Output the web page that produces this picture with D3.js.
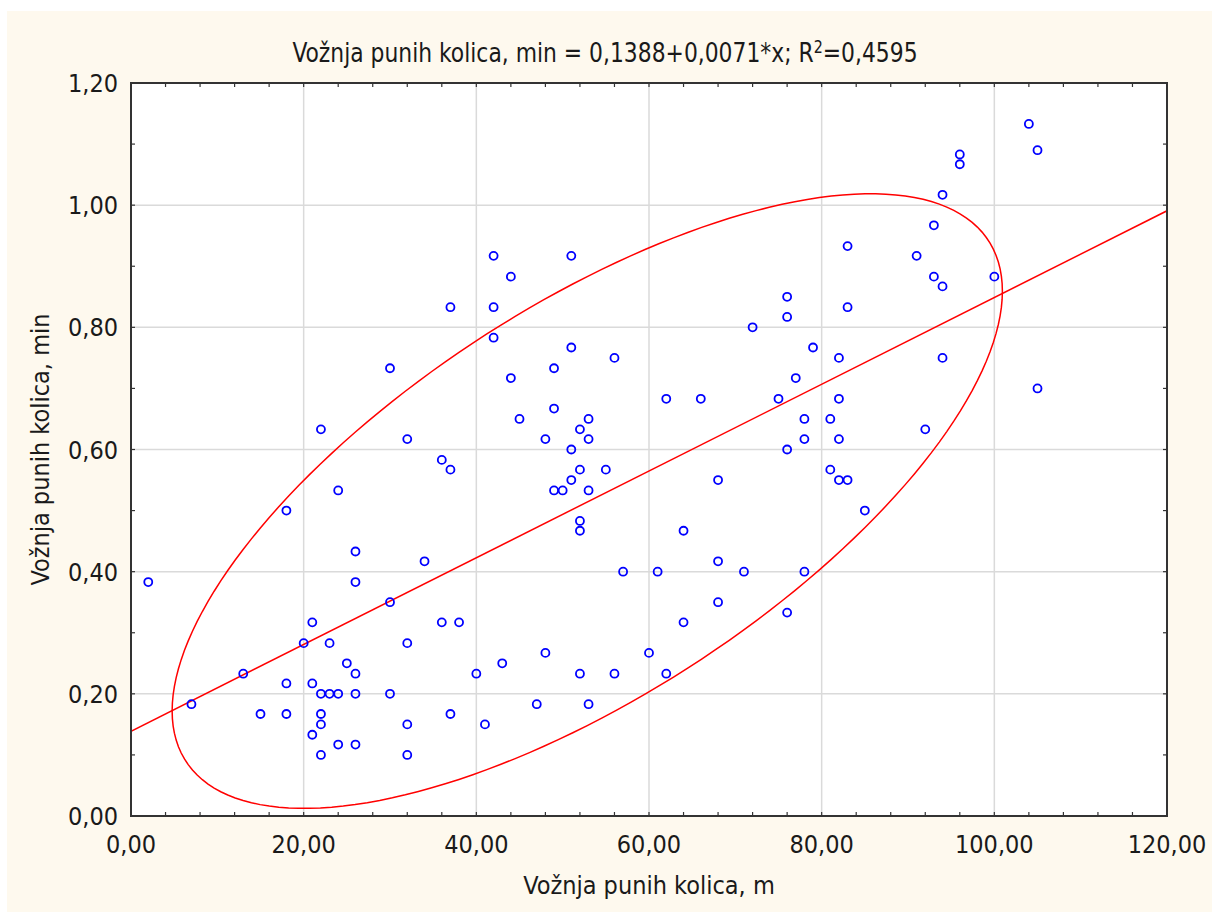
<!DOCTYPE html>
<html>
<head>
<meta charset="utf-8">
<script src="https://cdn.jsdelivr.net/npm/d3@7"></script>
<style>
  body { margin: 0; background: #fff; }
  svg text { font-family: "DejaVu Sans Condensed", "DejaVu Sans", sans-serif; fill: #1a1a1a; }
</style>
</head>
<body>
<div id="chart"></div>
<script>
// data
const xVals = [2, 7, 13, 15, 18, 18, 18, 20, 21, 21, 21, 22, 22, 22, 22, 22, 23, 23, 24, 24,
  24, 25, 26, 26, 26, 26, 26, 30, 30, 30, 32, 32, 32, 32, 34, 36, 36, 37, 37, 37,
  38, 40, 41, 42, 42, 42, 43, 44, 44, 45, 47, 48, 48, 49, 49, 49, 50, 51, 51, 51,
  51, 52, 52, 52, 52, 52, 53, 53, 53, 53, 55, 56, 56, 57, 60, 61, 62, 62, 64, 64,
  66, 68, 68, 68, 71, 72, 75, 76, 76, 76, 76, 77, 78, 78, 78, 79, 81, 81, 82, 82,
  82, 82, 83, 83, 83, 85, 91, 92, 93, 93, 94, 94, 94, 96, 96, 100, 104, 105, 105];
const yVals = [0.383, 0.183, 0.233, 0.167, 0.500, 0.217, 0.167, 0.283, 0.317, 0.217, 0.133, 0.633, 0.200, 0.167, 0.150, 0.100, 0.200, 0.283, 0.200, 0.533,
  0.117, 0.250, 0.433, 0.383, 0.233, 0.200, 0.117, 0.733, 0.350, 0.200, 0.617, 0.283, 0.150, 0.100, 0.417, 0.583, 0.317, 0.833, 0.567, 0.167,
  0.317, 0.233, 0.150, 0.917, 0.833, 0.783, 0.250, 0.883, 0.717, 0.650, 0.183, 0.617, 0.267, 0.733, 0.667, 0.533, 0.533, 0.917, 0.767, 0.600,
  0.550, 0.633, 0.567, 0.483, 0.467, 0.233, 0.650, 0.617, 0.533, 0.183, 0.567, 0.750, 0.233, 0.400, 0.267, 0.400, 0.683, 0.233, 0.467, 0.317,
  0.683, 0.550, 0.417, 0.350, 0.400, 0.800, 0.683, 0.850, 0.817, 0.600, 0.333, 0.717, 0.650, 0.617, 0.400, 0.767, 0.650, 0.567, 0.750, 0.683,
  0.617, 0.550, 0.550, 0.933, 0.833, 0.500, 0.917, 0.633, 0.967, 0.883, 1.017, 0.867, 0.750, 1.083, 1.067, 0.883, 1.133, 1.090, 0.700];

const xTicks = [0, 20, 40, 60, 80, 100, 120];
const yTicks = [0, 0.2, 0.4, 0.6, 0.8, 1.0, 1.2];
const intercept = 0.1388, slope = 0.0071;
const titleText = "Vožnja punih kolica, min = 0,1388+0,0071*x; R";
const xLabel = "Vožnja punih kolica, m";
const yLabel = "Vožnja punih kolica, min";
const ellipseK = 1.88; // size of the normal ellipse, in standard deviations

const w = 1212, h = 912;
const margin = {top: 83, right: 45, bottom: 96, left: 131};
const fs = 25;

const loc = d3.formatLocale({decimal: ",", thousands: ".", grouping: [3], currency: ["", ""]});
const f2 = loc.format(".2f");

const svg = d3.select("#chart").append("svg")
  .attr("width", w).attr("height", h);

svg.append("rect").attr("x", 7).attr("y", 11).attr("width", w - 7).attr("height", h - 11)
  .attr("fill", "#fef9ee");

const x = d3.scaleLinear().domain([0, 120]).range([margin.left, w - margin.right]);
const y = d3.scaleLinear().domain([0, 1.2]).range([h - margin.bottom, margin.top]);

svg.append("rect")
  .attr("x", x(0)).attr("y", y(1.2))
  .attr("width", x(120) - x(0)).attr("height", y(0) - y(1.2))
  .attr("fill", "#fff");

// grid
const grid = svg.append("g").attr("stroke", "#dadada").attr("stroke-width", 1.5);
grid.selectAll(".vx").data(xTicks.slice(1, -1)).enter().append("line")
  .attr("x1", d => x(d)).attr("x2", d => x(d)).attr("y1", y(0)).attr("y2", y(1.2));
grid.selectAll(".hy").data(yTicks.slice(1, -1)).enter().append("line")
  .attr("y1", d => y(d)).attr("y2", d => y(d)).attr("x1", x(0)).attr("x2", x(120));

svg.append("defs").append("clipPath").attr("id", "plotclip")
  .append("rect").attr("x", x(0)).attr("y", y(1.2))
  .attr("width", x(120) - x(0)).attr("height", y(0) - y(1.2));

// normal ellipse from the data
const n = xVals.length;
const mx = d3.mean(xVals), my = d3.mean(yVals);
const sx = d3.deviation(xVals), sy = d3.deviation(yVals);
let cov = 0;
for (let i = 0; i < n; i++) cov += (xVals[i] - mx) * (yVals[i] - my);
cov /= (n - 1);
const r = cov / (sx * sy);
const ell = d3.range(0, 361, 2).map(a => {
  const t = a * Math.PI / 180;
  const u = Math.cos(t), v = Math.sin(t);
  return [x(mx + ellipseK * sx * u), y(my + ellipseK * sy * (r * u + Math.sqrt(1 - r * r) * v))];
});

const red = svg.append("g").attr("clip-path", "url(#plotclip)")
  .attr("fill", "none").attr("stroke", "#ff0000").attr("stroke-width", 1.5);
red.append("path").attr("d", d3.line()(ell) + "Z");
red.append("path").attr("d", d3.line()([[x(0), y(intercept)], [x(120), y(intercept + slope * 120)]]));

// points
svg.append("g").selectAll("circle").data(xVals).enter().append("circle")
  .attr("cx", d => x(d))
  .attr("cy", (d, i) => y(yVals[i]))
  .attr("r", 4)
  .attr("fill", "none").attr("stroke", "#0000ff").attr("stroke-width", 1.8);

// frame + inward ticks
const axisCol = "#333";
const minorX = d3.range(0, 121, 4), minorY = d3.range(0, 1.201, 0.1);
const tk = svg.append("g").attr("stroke", axisCol).attr("stroke-width", 1.2);
tk.selectAll(".tb").data(minorX).enter().append("line")
  .attr("x1", d => x(d)).attr("x2", d => x(d)).attr("y1", y(0)).attr("y2", y(0) - 4);
tk.selectAll(".tt").data(minorX).enter().append("line")
  .attr("x1", d => x(d)).attr("x2", d => x(d)).attr("y1", y(1.2)).attr("y2", y(1.2) + 4);
tk.selectAll(".tl").data(minorY).enter().append("line")
  .attr("y1", d => y(d)).attr("y2", d => y(d)).attr("x1", x(0)).attr("x2", x(0) + 4);
tk.selectAll(".tr").data(minorY).enter().append("line")
  .attr("y1", d => y(d)).attr("y2", d => y(d)).attr("x1", x(120)).attr("x2", x(120) - 4);

svg.append("rect")
  .attr("x", x(0)).attr("y", y(1.2))
  .attr("width", x(120) - x(0)).attr("height", y(0) - y(1.2))
  .attr("fill", "none").attr("stroke", axisCol).attr("stroke-width", 2);

// tick labels
svg.append("g").selectAll("text").data(xTicks).enter().append("text")
  .attr("x", d => x(d)).attr("y", y(0) + 37)
  .attr("text-anchor", "middle").attr("font-size", fs)
  .text(d => f2(d));
svg.append("g").selectAll("text").data(yTicks).enter().append("text")
  .attr("x", x(0) - 13).attr("y", d => y(d) + 9)
  .attr("text-anchor", "end").attr("font-size", fs)
  .text(d => f2(d));

// title and axis labels
const title = svg.append("text")
  .attr("transform", "translate(605,62) scale(0.935,1)")
  .attr("text-anchor", "middle").attr("font-size", fs + 1);
title.append("tspan").text(titleText);
title.append("tspan").attr("dy", -9).attr("font-size", 17).text("2");
title.append("tspan").attr("dy", 9).text("=0,4595");

svg.append("text")
  .attr("x", (x(0) + x(120)) / 2).attr("y", 894)
  .attr("text-anchor", "middle").attr("font-size", fs)
  .text(xLabel);

svg.append("text")
  .attr("transform", `translate(49, ${(y(0) + y(1.2)) / 2}) rotate(-90)`)
  .attr("text-anchor", "middle").attr("font-size", fs)
  .text(yLabel);
</script>
</body>
</html>
